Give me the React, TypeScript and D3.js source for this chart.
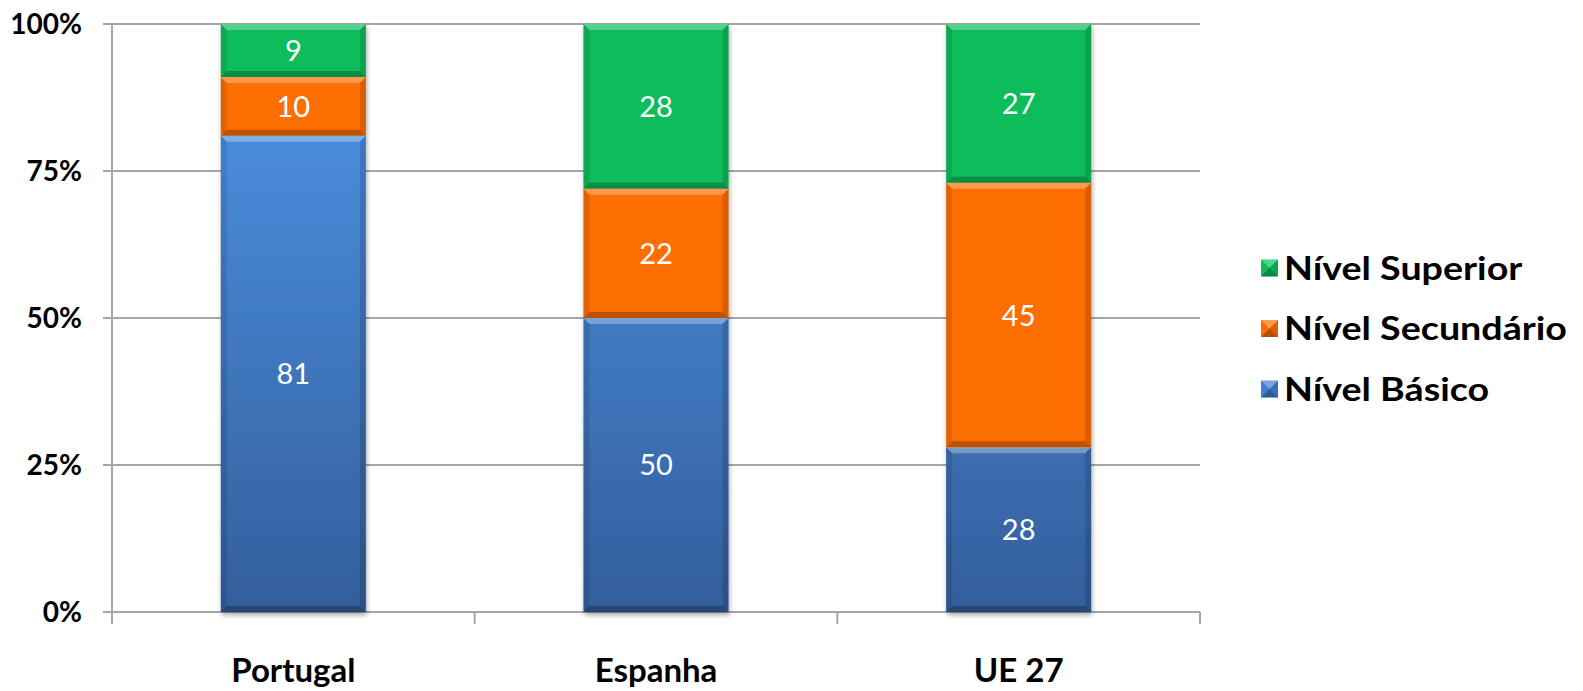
import { useEffect, useRef } from "react";
import * as d3 from "d3";

const categories = ["Portugal", "Espanha", "UE 27"];
const seriesNames = ["Nível Básico", "Nível Secundário", "Nível Superior"];
const basico = [81, 50, 28];
const secundario = [10, 22, 45];
const superior = [9, 28, 27];
const yTicks = [0, 25, 50, 75, 100];

const WIDTH = 1583;
const HEIGHT = 691;
const FONT = "Lato, 'Open Sans', sans-serif";

export default function App() {
  const svgRef = useRef<SVGSVGElement | null>(null);

  useEffect(() => {
    if (!svgRef.current) return;
    const svg = d3.select(svgRef.current);
    svg.selectAll("*").remove();

    const margin = { left: 112, top: 24, right: 1200, bottom: 612 };

    const x = d3
      .scaleBand<string>()
      .domain(categories)
      .range([margin.left, margin.right])
      .paddingInner(0.6)
      .paddingOuter(0.3);
    const band = d3
      .scaleBand<string>()
      .domain(categories)
      .range([margin.left, margin.right]);
    const y = d3.scaleLinear().domain([0, 100]).range([margin.bottom, margin.top]);

    const defs = svg.append("defs");
    const blueGrad = defs
      .append("linearGradient")
      .attr("id", "blueGrad")
      .attr("gradientUnits", "userSpaceOnUse")
      .attr("x1", 0)
      .attr("x2", 0)
      .attr("y1", y(85))
      .attr("y2", y(0));
    blueGrad.append("stop").attr("offset", "0%").attr("stop-color", "#4B8EDF");
    blueGrad.append("stop").attr("offset", "100%").attr("stop-color", "#335E9B");

    const shadow = defs.append("filter").attr("id", "shadow").attr("x", "-10%").attr("y", "-10%").attr("width", "130%").attr("height", "130%");
    shadow.append("feGaussianBlur").attr("in", "SourceAlpha").attr("stdDeviation", 2.5);
    shadow.append("feOffset").attr("dx", 1).attr("dy", 3).attr("result", "b");
    shadow.append("feComponentTransfer").append("feFuncA").attr("type", "linear").attr("slope", 0.35);
    const merge = shadow.append("feMerge");
    merge.append("feMergeNode");
    merge.append("feMergeNode").attr("in", "SourceGraphic");

    const colors: Record<string, string> = {
      "Nível Básico": "url(#blueGrad)",
      "Nível Secundário": "#FD6E06",
      "Nível Superior": "#0BBD5B",
    };
    const legendColors: Record<string, string> = {
      "Nível Básico": "#4180CF",
      "Nível Secundário": "#FD6E06",
      "Nível Superior": "#0BBD5B",
    };

    // gridlines
    svg
      .append("g")
      .selectAll("line")
      .data(yTicks)
      .join("line")
      .attr("x1", margin.left - 9)
      .attr("x2", margin.right)
      .attr("y1", (d) => y(d))
      .attr("y2", (d) => y(d))
      .attr("stroke", "#A6A6A6")
      .attr("stroke-width", 2);

    // y axis line
    svg
      .append("line")
      .attr("x1", margin.left)
      .attr("x2", margin.left)
      .attr("y1", margin.top)
      .attr("y2", margin.bottom + 12)
      .attr("stroke", "#A6A6A6")
      .attr("stroke-width", 2);

    // x ticks at band boundaries
    const boundaries = categories.map((c) => band(c)! + band.bandwidth()).slice(0, -1);
    svg
      .append("g")
      .selectAll("line")
      .data(boundaries.concat([margin.right]))
      .join("line")
      .attr("x1", (d) => d)
      .attr("x2", (d) => d)
      .attr("y1", margin.bottom)
      .attr("y2", margin.bottom + 12)
      .attr("stroke", "#A6A6A6")
      .attr("stroke-width", 2);

    // y tick labels
    svg
      .append("g")
      .selectAll("text")
      .data(yTicks)
      .join("text")
      .attr("x", margin.left - 30)
      .attr("y", (d) => y(d))
      .attr("dy", "0.36em")
      .attr("text-anchor", "end")
      .attr("font-family", FONT)
      .attr("font-weight", "bold")
      .attr("font-size", 28)
      .attr("fill", "#000")
      .text((d) => `${d}%`);

    // category labels
    svg
      .append("g")
      .selectAll("text")
      .data(categories)
      .join("text")
      .attr("x", (d) => x(d)! + x.bandwidth() / 2)
      .attr("y", 682)
      .attr("text-anchor", "middle")
      .attr("font-family", FONT)
      .attr("font-weight", "bold")
      .attr("font-size", 33)
      .attr("fill", "#000")
      .text((d) => d);

    const rows = categories.map((c, i) => ({
      category: c,
      "Nível Básico": basico[i],
      "Nível Secundário": secundario[i],
      "Nível Superior": superior[i],
    }));
    const stack = d3.stack<any>().keys(seriesNames);
    const stacked = stack(rows);

    const bevel = 6;
    const drawBevel = (g: any, x0: number, y0: number, w: number, h: number) => {
      const x1 = x0 + w;
      const y1 = y0 + h;
      const b = Math.min(bevel, h / 2);
      g.append("polygon")
        .attr("points", `${x0},${y0} ${x1},${y0} ${x1 - b},${y0 + b} ${x0 + b},${y0 + b}`)
        .attr("fill", "#fff")
        .attr("opacity", 0.3);
      g.append("polygon")
        .attr("points", `${x0},${y1} ${x1},${y1} ${x1 - b},${y1 - b} ${x0 + b},${y1 - b}`)
        .attr("fill", "#000")
        .attr("opacity", 0.25);
      g.append("polygon")
        .attr("points", `${x0},${y0} ${x0 + b},${y0 + b} ${x0 + b},${y1 - b} ${x0},${y1}`)
        .attr("fill", "#000")
        .attr("opacity", 0.1);
      g.append("polygon")
        .attr("points", `${x1},${y0} ${x1 - b},${y0 + b} ${x1 - b},${y1 - b} ${x1},${y1}`)
        .attr("fill", "#000")
        .attr("opacity", 0.14);
    };

    const barsG = svg.append("g");
    categories.forEach((c, ci) => {
      const bg = barsG.append("g").attr("filter", "url(#shadow)");
      stacked.forEach((s) => {
        const d = s[ci];
        bg.append("rect")
          .attr("x", x(c)!)
          .attr("y", y(d[1]))
          .attr("width", x.bandwidth())
          .attr("height", y(d[0]) - y(d[1]))
          .attr("fill", colors[s.key]);
      });
    });
    categories.forEach((c, ci) => {
      const g = barsG.append("g");
      stacked.forEach((s) => {
        const d = s[ci];
        const x0 = x(c)!;
        const yTop = y(d[1]);
        const h = y(d[0]) - y(d[1]);
        drawBevel(g, x0, yTop, x.bandwidth(), h);
        g.append("text")
          .attr("x", x0 + x.bandwidth() / 2)
          .attr("y", yTop + h / 2)
          .attr("dy", "0.36em")
          .attr("text-anchor", "middle")
          .attr("font-family", FONT)
          .attr("font-size", 29)
          .attr("fill", "#fff")
          .text(d[1] - d[0]);
      });
    });

    // legend
    const legendItems = [...seriesNames].reverse();
    const legendY = d3.scalePoint<string>().domain(legendItems).range([268, 389]);
    const legend = svg.append("g");
    legendItems.forEach((name) => {
      const cy = legendY(name)!;
      const s = 17;
      const lx = 1261;
      const g = legend.append("g");
      g.append("rect")
        .attr("x", lx)
        .attr("y", cy - s / 2)
        .attr("width", s)
        .attr("height", s)
        .attr("fill", legendColors[name]);
      const x0 = lx, y0 = cy - s / 2, x1 = lx + s, y1 = cy + s / 2, mx = lx + s / 2, my = cy;
      g.append("polygon").attr("points", `${x0},${y0} ${x1},${y0} ${mx},${my}`).attr("fill", "#fff").attr("opacity", 0.3);
      g.append("polygon").attr("points", `${x0},${y1} ${x1},${y1} ${mx},${my}`).attr("fill", "#000").attr("opacity", 0.28);
      g.append("polygon").attr("points", `${x1},${y0} ${x1},${y1} ${mx},${my}`).attr("fill", "#000").attr("opacity", 0.12);
      g.append("text")
        .attr("transform", `translate(1284,${cy}) scale(1.14,1)`)
        .attr("dy", "0.36em")
        .attr("font-family", FONT)
        .attr("font-weight", "bold")
        .attr("font-size", 33)
        .attr("fill", "#000")
        .text(name);
    });
  }, []);

  return (
    <div style={{ position: "absolute", left: 0, top: 0 }}>
      <svg ref={svgRef} width={WIDTH} height={HEIGHT} style={{ display: "block", background: "#fff" }} />
    </div>
  );
}
